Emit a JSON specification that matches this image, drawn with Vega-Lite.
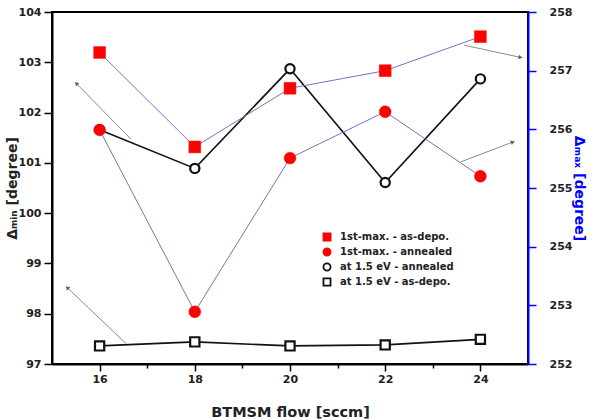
{
  "$schema": "https://vega.github.io/schema/vega-lite/v6.json",
  "width": 476,
  "height": 352,
  "autosize": {"type": "none"},
  "padding": {"left": 52, "top": 12, "right": 64, "bottom": 55},
  "background": "white",
  "datasets": {
    "series": [
      {"flow": 16, "value": 257.31, "series": "1st-max. - as-depo."},
      {"flow": 18, "value": 255.70, "series": "1st-max. - as-depo."},
      {"flow": 20, "value": 256.70, "series": "1st-max. - as-depo."},
      {"flow": 22, "value": 257.00, "series": "1st-max. - as-depo."},
      {"flow": 24, "value": 257.58, "series": "1st-max. - as-depo."},
      {"flow": 16, "value": 255.99, "series": "1st-max. - annealed"},
      {"flow": 18, "value": 252.89, "series": "1st-max. - annealed"},
      {"flow": 20, "value": 255.51, "series": "1st-max. - annealed"},
      {"flow": 22, "value": 256.30, "series": "1st-max. - annealed"},
      {"flow": 24, "value": 255.20, "series": "1st-max. - annealed"},
      {"flow": 16, "value": 101.66, "series": "at 1.5 eV - annealed"},
      {"flow": 18, "value": 100.89, "series": "at 1.5 eV - annealed"},
      {"flow": 20, "value": 102.87, "series": "at 1.5 eV - annealed"},
      {"flow": 22, "value": 100.61, "series": "at 1.5 eV - annealed"},
      {"flow": 24, "value": 102.67, "series": "at 1.5 eV - annealed"},
      {"flow": 16, "value": 97.36, "series": "at 1.5 eV - as-depo."},
      {"flow": 18, "value": 97.44, "series": "at 1.5 eV - as-depo."},
      {"flow": 20, "value": 97.36, "series": "at 1.5 eV - as-depo."},
      {"flow": 22, "value": 97.38, "series": "at 1.5 eV - as-depo."},
      {"flow": 24, "value": 97.49, "series": "at 1.5 eV - as-depo."}
    ],
    "arrows": [
      {"x": 16.66, "y": 101.47, "x2": 15.52, "y2": 102.57},
      {"x": 16.55, "y": 97.41, "x2": 15.33, "y2": 98.51},
      {"x": 23.66, "y": 103.34, "x2": 24.83, "y2": 103.10},
      {"x": 23.59, "y": 101.02, "x2": 24.67, "y2": 101.41}
    ]
  },
  "layer": [
    {
      "layer": [
        {
          "data": {"name": "arrows"},
          "mark": {"type": "rule", "color": "#8a8a8a", "strokeWidth": 1},
          "encoding": {
            "x": {"field": "x", "type": "quantitative"},
            "y": {"field": "y", "type": "quantitative"},
            "x2": {"field": "x2"},
            "y2": {"field": "y2"}
          }
        },
        {
          "data": {"name": "arrows"},
          "transform": [
            {"calculate": "atan2((datum.x2 - datum.x) * 47.6, (datum.y2 - datum.y) * 352 / 7) * 180 / PI", "as": "ang"}
          ],
          "mark": {"type": "point", "shape": "triangle", "filled": true, "color": "#222", "size": 22},
          "encoding": {
            "x": {"field": "x2", "type": "quantitative"},
            "y": {"field": "y2", "type": "quantitative"},
            "angle": {"field": "ang", "type": "quantitative", "scale": null}
          }
        },
        {
          "data": {"name": "series"},
          "transform": [{"filter": {"field": "series", "oneOf": ["at 1.5 eV - annealed", "at 1.5 eV - as-depo."]}}],
          "mark": {"type": "line", "color": "#111", "strokeWidth": 1.6},
          "encoding": {
            "x": {"field": "flow", "type": "quantitative"},
            "y": {"field": "value", "type": "quantitative"},
            "detail": {"field": "series"}
          }
        },
        {
          "data": {"name": "series"},
          "transform": [{"filter": {"field": "series", "oneOf": ["at 1.5 eV - annealed", "at 1.5 eV - as-depo."]}}],
          "mark": {"type": "point", "filled": true, "size": 85, "strokeWidth": 2.2, "opacity": 1},
          "encoding": {
            "x": {"field": "flow", "type": "quantitative", "scale": {"domain": [15, 25], "nice": false, "zero": false},
              "axis": {"title": "BTMSM flow [sccm]", "values": [16, 17, 18, 19, 20, 21, 22, 23, 24], "format": "d",
                "labelExpr": "datum.value % 2 === 0 ? datum.label : ''", "labelOverlap": false,
                "tickSize": {"condition": {"test": "datum.value % 2 !== 0", "value": 4}, "value": 7},
                "labelPadding": 2, "titlePadding": 21, "titleFontSize": 14.5}},
            "y": {"field": "value", "type": "quantitative", "scale": {"domain": [97, 104], "nice": false, "zero": false},
              "axis": {"orient": "left", "title": "Δₘᵢₙ [degree]", "format": "d",
                "values": [97, 97.5, 98, 98.5, 99, 99.5, 100, 100.5, 101, 101.5, 102, 102.5, 103, 103.5, 104],
                "labelExpr": "datum.value % 1 === 0 ? datum.label : ''", "labelOverlap": false,
                "tickSize": {"condition": {"test": "datum.value % 1 !== 0", "value": 4}, "value": 8},
                "labelPadding": 3, "titlePadding": -1}},
            "shape": {"field": "series", "type": "nominal",
              "scale": {"domain": ["1st-max. - as-depo.", "1st-max. - annealed", "at 1.5 eV - annealed", "at 1.5 eV - as-depo."],
                "range": ["square", "circle", "circle", "square"]},
              "legend": {"title": null, "orient": "none", "legendX": 270, "legendY": 220}},
            "fill": {"field": "series", "type": "nominal",
              "scale": {"domain": ["1st-max. - as-depo.", "1st-max. - annealed", "at 1.5 eV - annealed", "at 1.5 eV - as-depo."],
                "range": ["#ff0000", "#ff0000", "#ffffff", "#ffffff"]}},
            "stroke": {"field": "series", "type": "nominal",
              "scale": {"domain": ["1st-max. - as-depo.", "1st-max. - annealed", "at 1.5 eV - annealed", "at 1.5 eV - as-depo."],
                "range": ["#ff0000", "#ff0000", "#111111", "#111111"]}}
          }
        }
      ]
    },
    {
      "layer": [
        {
          "data": {"name": "series"},
          "transform": [{"filter": {"field": "series", "oneOf": ["1st-max. - as-depo.", "1st-max. - annealed"]}}],
          "mark": {"type": "line", "color": "#7474bc", "strokeWidth": 1},
          "encoding": {
            "x": {"field": "flow", "type": "quantitative"},
            "y": {"field": "value", "type": "quantitative"},
            "detail": {"field": "series"}
          }
        },
        {
          "data": {"name": "series"},
          "transform": [{"filter": {"field": "series", "oneOf": ["1st-max. - as-depo.", "1st-max. - annealed"]}}],
          "mark": {"type": "point", "filled": true, "size": 140, "strokeWidth": 0.5, "opacity": 1},
          "encoding": {
            "x": {"field": "flow", "type": "quantitative"},
            "y": {"field": "value", "type": "quantitative", "scale": {"domain": [252, 258], "nice": false, "zero": false},
              "axis": {"orient": "right", "title": "Δₘₐₓ [degree]", "titleColor": "#0000ff", "format": "d",
                "domainColor": "#0000ff", "tickColor": "#0000ff",
                "values": [252, 252.5, 253, 253.5, 254, 254.5, 255, 255.5, 256, 256.5, 257, 257.5, 258],
                "labelExpr": "datum.value % 1 === 0 ? datum.label : ''", "labelOverlap": false,
                "tickSize": {"condition": {"test": "datum.value % 1 !== 0", "value": 4}, "value": 8},
                "labelPadding": 13, "titlePadding": 0}},
            "shape": {"field": "series", "type": "nominal"},
            "fill": {"field": "series", "type": "nominal"},
            "stroke": {"field": "series", "type": "nominal"}
          }
        }
      ]
    }
  ],
  "resolve": {"scale": {"y": "independent"}},
  "config": {
    "view": {"stroke": "#000000", "strokeWidth": 2},
    "axis": {
      "grid": false,
      "labelFont": "DejaVu Sans", "labelFontWeight": "bold", "labelFontSize": 11, "labelColor": "#222",
      "titleFont": "DejaVu Sans", "titleFontWeight": "bold", "titleFontSize": 14, "titleColor": "#222",
      "domainWidth": 2, "domainColor": "#000", "tickColor": "#000", "tickWidth": 1.5
    },
    "legend": {
      "labelFont": "DejaVu Sans", "labelFontWeight": "bold", "labelFontSize": 10, "labelColor": "#222",
      "symbolSize": 50, "symbolStrokeWidth": 1.8, "rowPadding": -1, "labelOffset": 8
    }
  }
}
